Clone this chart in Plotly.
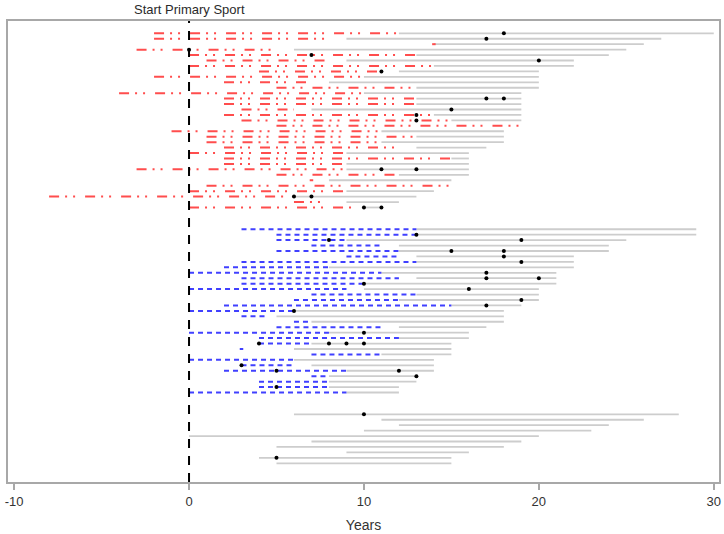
import plotly.graph_objects as go

# Years relative to start of primary sport, one entry per athlete (top to bottom)

# Group 1 (red, dash-dot-dot)
red_start = [-2, -2, 13.9, -3, 0, 1, 0, 4, -2, 2, 5, -4, 2, 2, 3, 2, 3, 5, -1, 1,
             1, 2, 0, 2, 2, -3, 5, 6.9, 1, 0, -8, 6, 0]
red_end = [12, 8, 14.1, 5, 13, 8, 14, 11, 10, 7, 13, 10, 13, 13, 6, 14, 15, 19, 11, 13,
           11, 12, 9, 15, 9, 9, 12, 7.1, 15, 9, 5.5, 8, 9.5]
red_follow_start = [12, 9, 14, 6, 13, 9, 14, 12, 10, 8, 13, 10, 13, 13, 7, 14, 15, 19, 11, 13,
                    11, 13, 9, 15, 9, 9, 12, 8, 15, 9, 6, 9, 10]
red_follow_end = [30, 27, 26, 25, 24, 22, 22, 20, 20, 20, 20, 19, 19, 19, 19, 19, 19, 19, 18, 18,
                  18, 17, 16, 16, 16, 16, 16, 15, 15, 14, 13, 12, 11]
red_events = [[18], [17], [], [0], [7], [20], [], [11], [], [], [], [], [17, 18], [], [15], [13],
              [13], [], [], [], [], [], [], [], [], [11, 13], [], [], [], [], [6, 7], [], [10, 11]]

# Group 2 (blue, dashed)
blue_start = [3, 5, 5, 7, 5, 9, 3, 2, 0, 3, 3, 0, 7, 6, 2, 0, 3, 6, 5, 0,
              4, 4, 2.9, 7, 0, 3, 2, 7, 4, 4, 0]
blue_end = [13, 13, 9, 11, 12, 12, 13, 8, 11, 12, 10, 9, 13, 12, 15, 6, 4.5, 7, 11, 8,
            12, 7, 3.1, 11, 6, 6, 9, 8, 8, 8, 9]
blue_follow_start = [13, 13, 9, 12, 12, 13, 13, 8, 11, 13, 10, 10, 13, 12, 15, 6, 5, 7, 12, 8,
                     12, 7, 6, 11, 6, 7, 9, 8, 8, 8, 9]
blue_follow_end = [29, 29, 25, 24, 24, 22, 22, 22, 21, 21, 21, 20, 20, 20, 19, 18, 18, 18, 17, 16,
                   16, 15, 15, 15, 14, 14, 14, 13, 13, 12, 12]
blue_events = [[], [13], [8, 19], [], [15, 18], [18], [19], [], [17], [17, 20], [10], [16], [],
               [19], [17], [6], [], [], [], [10], [], [4, 8, 9, 10], [], [], [], [3], [5, 12],
               [13], [], [5], []]

# Group 3 (no primary sport period)
gray_start = [6, 11, 12, 10, 0, 7, 5, 9, 4, 5]
gray_end = [28, 26, 24, 23, 20, 19, 18, 16, 15, 15]
gray_events = [[10], [], [], [], [], [], [], [], [5], []]

x_ticks = [-10, 0, 10, 20, 30]
x_tick_labels = ["-10", "0", "10", "20", "30"]

GAP = 3
red_rows = list(range(len(red_start)))
blue_rows = [red_rows[-1] + 1 + GAP + i for i in range(len(blue_start))]
gray_rows = [blue_rows[-1] + 1 + GAP + i for i in range(len(gray_start))]


def segments(starts, ends, rows):
    xs, ys = [], []
    for s, e, r in zip(starts, ends, rows):
        xs += [s, e, None]
        ys += [r, r, None]
    return xs, ys


def events(lists, rows):
    xs, ys = [], []
    for ev, r in zip(lists, rows):
        for v in ev:
            xs.append(v)
            ys.append(r)
    return xs, ys


GRAY = "#CDCDCD"
fig = go.Figure()

follow_x, follow_y = [], []
for st, en, rows in [(red_follow_start, red_follow_end, red_rows),
                     (blue_follow_start, blue_follow_end, blue_rows),
                     (gray_start, gray_end, gray_rows)]:
    x, y = segments(st, en, rows)
    follow_x += x
    follow_y += y
fig.add_trace(go.Scatter(x=follow_x, y=follow_y, mode="lines",
                         line=dict(color=GRAY, width=1.8), hoverinfo="skip"))

x, y = segments(red_start, red_end, red_rows)
fig.add_trace(go.Scatter(x=x, y=y, mode="lines",
                         line=dict(color="#FF4D4D", width=2,
                                   dash="10px,6px,2px,6px,2px,10px")))
x, y = segments(blue_start, blue_end, blue_rows)
fig.add_trace(go.Scatter(x=x, y=y, mode="lines",
                         line=dict(color="#4040FF", width=2, dash="5px,4px")))

ev_x, ev_y = [], []
for lists, rows in [(red_events, red_rows), (blue_events, blue_rows), (gray_events, gray_rows)]:
    x, y = events(lists, rows)
    ev_x += x
    ev_y += y
fig.add_trace(go.Scatter(x=ev_x, y=ev_y, mode="markers",
                         marker=dict(color="black", size=4)))

fig.add_shape(type="line", x0=0, x1=0, xref="x", y0=0, y1=1, yref="paper",
              line=dict(color="black", width=2, dash="9px,8px"))
fig.add_annotation(x=0, xref="x", y=1, yref="paper", yanchor="bottom", yshift=2,
                   text="Start Primary Sport", showarrow=False,
                   font=dict(size=13, color="#2A2A2A"))

frame = dict(showline=True, mirror=True, linecolor="#A8A8A8", linewidth=2,
             showgrid=False, zeroline=False, automargin=False)
fig.update_layout(
    width=724, height=534,
    margin=dict(l=8, r=5, t=21, b=52),
    plot_bgcolor="white", paper_bgcolor="white",
    showlegend=False,
    font=dict(family="Liberation Sans, Arial, sans-serif", size=13, color="#333333"),
    xaxis=dict(range=[-10.35, 30.3], tickvals=x_ticks, ticktext=x_tick_labels,
               ticks="outside", ticklen=6, tickwidth=1.5, tickcolor="#A8A8A8",
               title=dict(text="Years", font=dict(size=14), standoff=13), **frame),
    yaxis=dict(range=[82.44, -2.26], showticklabels=False, ticks="", **frame),
)

fig.write_html("out.html", config={"displayModeBar": False},
               post_script="document.body.style.margin='0';")
